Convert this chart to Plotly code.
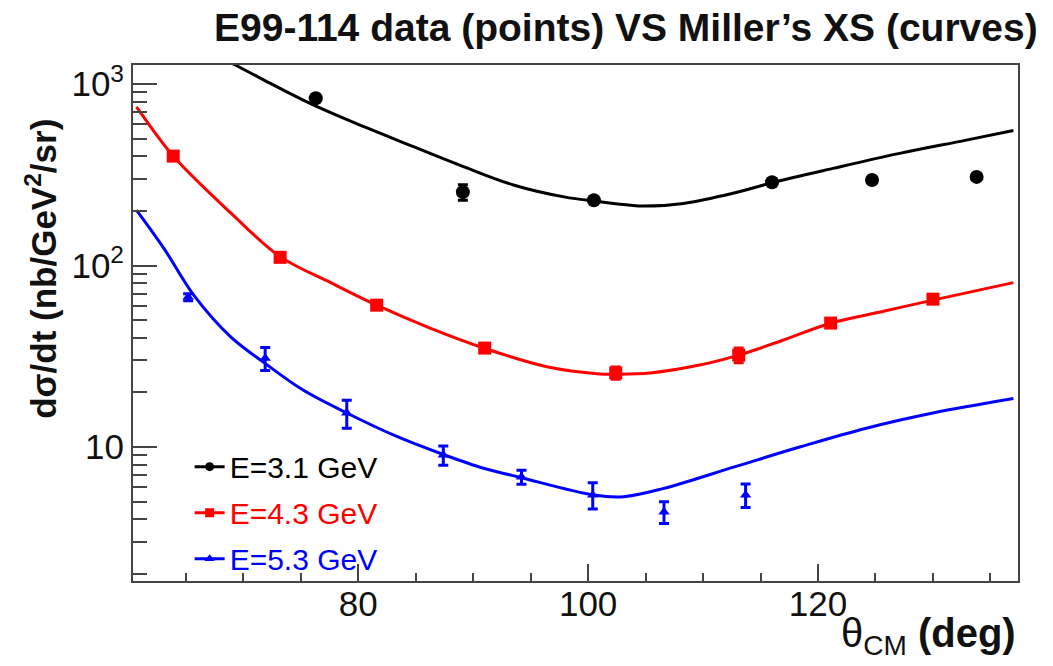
import plotly.graph_objects as go

# ---- data points (theta_CM in deg, dsigma/dt in nb/GeV^2/sr) ----
theta_31 = [76.3, 89.1, 100.5, 116.0, 124.7, 133.8]
xs_31 = [835, 254, 229, 288, 296, 308]
err_31 = [15, 25, 8, 8, 8, 8]

theta_43 = [63.9, 73.2, 81.6, 91.0, 102.4, 113.1, 121.1, 130.0]
xs_43 = [401, 111, 60.5, 35.1, 25.6, 32.1, 48.2, 65.3]
err_43 = [8, 3, 2, 1.2, 2.0, 3.0, 1.5, 2.0]

theta_53 = [65.2, 71.9, 79.0, 87.4, 94.2, 100.4, 106.6, 113.7]
xs_53 = [67, 30.9, 15.4, 9.04, 6.84, 5.45, 4.39, 5.45]
err_53 = [3, 4.5, 2.7, 1.1, 0.6, 0.9, 0.6, 0.8]

# ---- Miller's cross-section curves ----
curve_x_31 = [68.0, 69.3, 71.8, 75.8, 80.5, 84.8, 89.2, 93.5, 97.9, 101.0, 103.7, 104.8,
              108.3, 112.6, 116.0, 121.3, 127.1, 132.9, 137.0]
curve_y_31 = [1406, 1273, 1052, 783, 582, 452, 350, 278, 239, 225, 215, 213,
              220, 250, 286, 343, 415, 491, 555]

curve_x_43 = [60.7, 60.9, 63.9, 68.9, 73.2, 77.6, 81.6, 86.3, 91.0, 96.4, 101.0, 102.5,
              105.4, 109.7, 113.1, 117.0, 121.1, 125.7, 130.0, 137.0]
curve_y_43 = [748, 719, 401, 195, 112, 80.5, 60.5, 45.1, 35.0, 27.7, 25.3, 25.2,
              25.6, 28.3, 32.1, 38.9, 48.1, 56.0, 64.5, 80.5]

curve_x_53 = [60.7, 63.1, 65.7, 68.9, 71.9, 75.2, 79.0, 83.4, 87.4, 90.9, 94.1, 100.5,
              103.1, 106.5, 112.8, 118.4, 124.2, 130.0, 137.0]
curve_y_53 = [202, 124, 68.5, 40.5, 28.9, 20.6, 15.4, 11.4, 9.1, 7.64, 6.8, 5.44,
              5.33, 5.9, 7.8, 10.0, 12.7, 15.4, 18.5]

labels = ["E=3.1 GeV", "E=4.3 GeV", "E=5.3 GeV"]
colors = ["#000000", "#ff0000", "#0000ff"]
symbols = ["circle", "square", "triangle-up"]
msizes = [14, 13, 10]

y_tickvals = [10, 100, 1000]
y_ticktext = ["10", "10<sup>2</sup>", "10<sup>3</sup>"]
y_minor = [m * 10 ** e for e in range(0, 3) for m in range(2, 10)]

FONT = "Liberation Sans, Arial, Helvetica, sans-serif"

fig = go.Figure()

series = [
    (theta_31, xs_31, err_31, curve_x_31, curve_y_31),
    (theta_43, xs_43, err_43, curve_x_43, curve_y_43),
    (theta_53, xs_53, err_53, curve_x_53, curve_y_53),
]

for i, (tx, ty, te, cx, cy) in enumerate(series):
    fig.add_trace(go.Scatter(
        x=cx, y=cy, mode="lines", line=dict(color=colors[i], width=3, shape="spline", smoothing=1.0),
        showlegend=False, hoverinfo="skip"))
    fig.add_trace(go.Scatter(
        x=tx, y=ty, mode="markers",
        marker=dict(color=colors[i], symbol=symbols[i], size=msizes[i]),
        error_y=dict(type="data", array=te, visible=True, color=colors[i], thickness=3, width=5),
        showlegend=False))

for i in range(3):
    fig.add_trace(go.Scatter(
        x=[None], y=[None], mode="lines+markers",
        line=dict(color=colors[i], width=3),
        marker=dict(color=colors[i], symbol=symbols[i], size=9),
        name=f"<span style='color:{colors[i]}'>{labels[i]}</span>",
        legendgroup=f"g{i}", showlegend=True))

axis_common = dict(showline=True, linecolor="#444", linewidth=2, mirror=True,
                   ticks="inside", tickcolor="#444", showgrid=False, zeroline=False,
                   tickfont=dict(family=FONT, size=35, color="#111"))

fig.update_xaxes(range=[60.4, 137.4], dtick=20, tick0=0, ticklen=17, tickwidth=2,
                 ticklabelstandoff=-9,
                 minor=dict(dtick=5, tick0=0, ticks="inside", ticklen=8, tickwidth=2, tickcolor="#444"),
                 **axis_common)
fig.update_yaxes(type="log", range=[0.262, 3.105], tickvals=y_tickvals, ticktext=y_ticktext,
                 ticklen=24, tickwidth=2,
                 minor=dict(tickvals=y_minor, ticks="inside", ticklen=14, tickwidth=2, tickcolor="#444"),
                 **axis_common)

fig.update_layout(
    width=1053, height=666,
    margin=dict(l=133, r=35, t=65, b=85),
    paper_bgcolor="white", plot_bgcolor="white",
    font=dict(family=FONT, color="#111"),
    legend=dict(x=0.064, y=0.272, xanchor="left", yanchor="top",
                bgcolor="rgba(255,255,255,0)", font=dict(family=FONT, size=30),
                tracegroupgap=4),
    annotations=[
        dict(text="<b>E99-114 data (points) VS Miller’s XS (curves)</b>",
             xref="paper", yref="paper", x=1.025, y=1.027, xanchor="right", yanchor="bottom",
             showarrow=False, font=dict(family=FONT, size=39, color="#111")),
        dict(text="<b>dσ/dt (nb/GeV<sup>2</sup>/sr)</b>", textangle=-90,
             xref="paper", yref="paper", x=-0.104, y=0.605, xanchor="center", yanchor="middle",
             showarrow=False, font=dict(family=FONT, size=35, color="#111")),
        dict(text="θ<sub>CM</sub> <b>(deg)</b>",
             xref="paper", yref="paper", x=1.0, y=-0.055, xanchor="right", yanchor="top",
             showarrow=False, font=dict(family=FONT, size=40, color="#111")),
    ],
)

fig.write_html("out.html")
